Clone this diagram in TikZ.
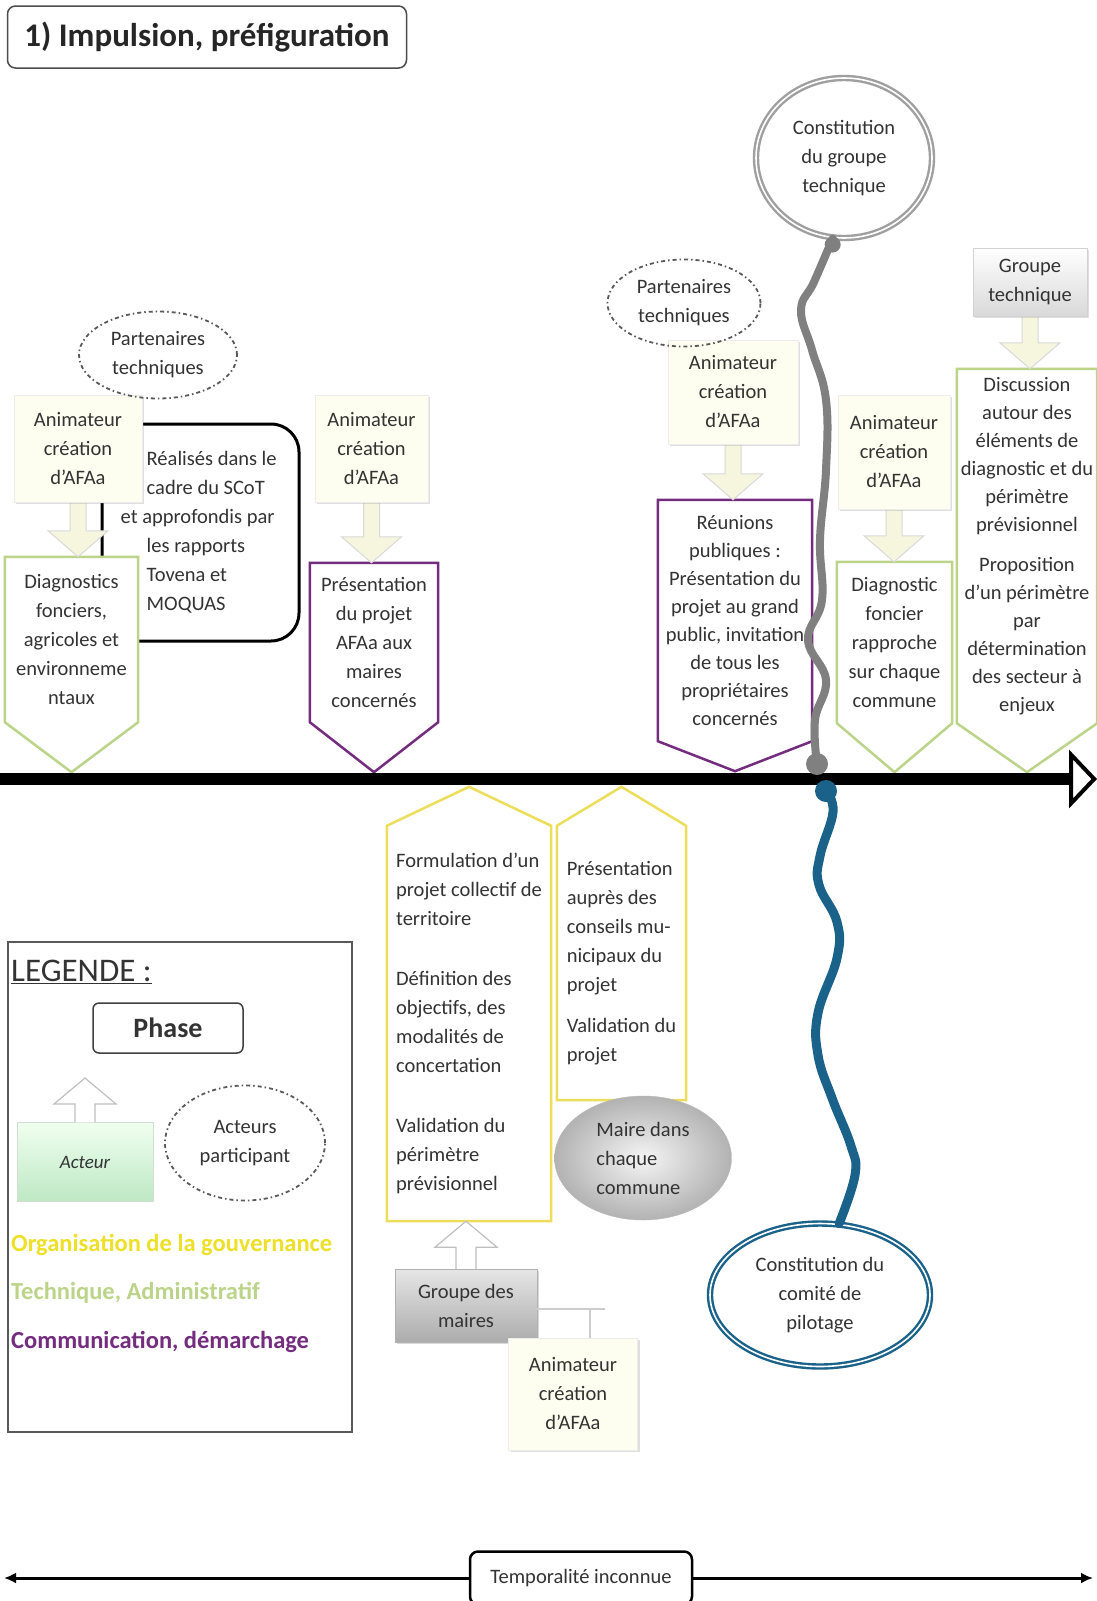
\documentclass[tikz,border=0pt]{standalone}
\usepackage{fontspec}
\setmainfont{Carlito}
\usetikzlibrary{positioning, calc, shapes.geometric, shadows, arrows.meta}
\pgfdeclarelayer{back}
\pgfsetlayers{back,main}
\definecolor{techc}{RGB}{188,212,138}
\definecolor{commc}{RGB}{116,44,126}
\definecolor{govc}{RGB}{236,222,90}
\definecolor{govtxt}{RGB}{238,224,40}
\definecolor{stemgray}{RGB}{128,128,128}
\definecolor{stemblue}{RGB}{26,98,138}
\definecolor{creme}{RGB}{253,253,240}
\definecolor{pale}{RGB}{246,246,222}
\definecolor{acteurc}{RGB}{190,232,196}

\begin{document}
\begin{tikzpicture}[x=1pt,y=-1pt,node distance=2cm]
    \tikzstyle{txt}=[font=\fontsize{20.5}{29}\selectfont, text=black!80, inner sep=0pt, align=center]
    \tikzstyle{titlebox}=[txt, draw=gray!60!black, line width=1.5pt, rounded corners=8pt, fill=white, font=\fontsize{33}{36}\selectfont\bfseries, text=black!85]
    \tikzstyle{notebox}=[draw=black, line width=3pt, rounded corners=28pt, fill=white]
    \tikzstyle{tag}=[txt, rectangle]
    \tikzstyle{callbox}=[txt, rectangle, fill=creme, draw=gray!15, drop shadow={opacity=0.25, shadow xshift=2pt, shadow yshift=-2pt}]
    \tikzstyle{greybox}=[txt, rectangle, draw=gray!35, top color=white, bottom color=gray!30, drop shadow={opacity=0.25, shadow xshift=2pt, shadow yshift=-2pt}]
    \tikzstyle{darkbox}=[txt, rectangle, draw=gray!60, top color=gray!20, bottom color=gray!65, drop shadow={opacity=0.3, shadow xshift=2pt, shadow yshift=-2pt}]
    \tikzstyle{partell}=[txt, ellipse, draw=black!65, line width=1.8pt, dash pattern=on 4pt off 3pt on 1.5pt off 3pt]
    \tikzstyle{phasecirc}=[txt, ellipse, fill=white, draw=gray!75, line width=2.4pt, double=white, double distance=1.6pt]
    \tikzstyle{calldown}=[fill=pale, draw=gray!30, line width=1pt, to path={let \p1=(\tikztostart), \p2=(\tikztotarget) in (\x1-8pt,\y1) -- (\x1-8pt,\y2+26pt) -- (\x1-30pt,\y2+26pt) -- (\x1,\y2) -- (\x1+30pt,\y2+26pt) -- (\x1+8pt,\y2+26pt) -- (\x1+8pt,\y1) -- cycle}]
    \tikzstyle{blockup}=[fill=white, draw=gray!50, line width=1.2pt, to path={let \p1=(\tikztostart), \p2=(\tikztotarget) in (\x1-10pt,\y1) -- (\x1-10pt,\y2-26pt) -- (\x1-31pt,\y2-26pt) -- (\x1,\y2) -- (\x1+31pt,\y2-26pt) -- (\x1+10pt,\y2-26pt) -- (\x1+10pt,\y1)}]
    \tikzstyle{calloutline}=[draw=gray!40, line width=1.5pt]
    \tikzstyle{graystem}=[draw=stemgray, line width=8pt, line cap=round]
    \tikzstyle{bluestem}=[draw=stemblue, line width=9pt, line cap=round]
    \tikzstyle{timeline}=[line width=12pt, -{Triangle[open, length=28pt 0 0, width=58pt 0 0, line width=4pt]}]
    \tikzstyle{tbar}=[line width=3pt, -{Latex[length=12pt 0 0, width=11pt 0 0]}]
    \tikzstyle{legtxt}=[txt, font=\fontsize{24.5}{28}\selectfont\bfseries]

    \useasboundingbox (0,0) rectangle (1097,1601);
    \begin{pgfonlayer}{back}
        \fill[white] (0,0) rectangle (1097,1601);
        \node[notebox, minimum width=197pt, minimum height=217pt] (scot) at (200.5,532.5) {};
        \node[txt, align=left, anchor=west] (scottxt) at ([xshift=46pt]scot.west)
            {Réalisés dans le\\cadre du SCoT\\\hspace*{-26pt}et approfondis par\\les rapports\\Tovena et\\MOQUAS};
    \end{pgfonlayer}

    \node[titlebox, minimum width=399pt, minimum height=62pt] (titre) at (207,37) {1) Impulsion, préfiguration};

    % phases au-dessus de l'axe
    \node[tag, minimum width=133pt, minimum height=165pt] (diag) at (71.5,639.5)
        {Diagnostics\\fonciers,\\agricoles et\\environneme\\ntaux};
    \node[tag, minimum width=128pt, minimum height=159pt] (pres) at (374,642.5)
        {Présentation\\du projet\\AFAa aux\\maires\\concernés};
    \node[tag, minimum width=154pt, minimum height=241pt, font=\fontsize{20.5}{28}\selectfont] (reun) at (735,620.5)
        {Réunions\\publiques :\\Présentation du\\projet au grand\\public, invitation\\de tous les\\propriétaires\\concernés};
    \node[tag, minimum width=115pt, minimum height=161pt] (fonc) at (894.5,642.5)
        {Diagnostic\\foncier\\rapproche\\sur chaque\\commune};
    \node[tag, minimum width=140pt, minimum height=354pt, font=\fontsize{20.5}{28}\selectfont] (disc) at (1027,546)
        {Discussion\\autour des\\éléments de\\diagnostic et du\\périmètre\\prévisionnel\\[12pt]Proposition\\d’un périmètre\\par\\détermination\\des secteur à\\enjeux};

    % phases sous l'axe
    \node[tag, minimum width=164pt, minimum height=395pt, align=left] (formu) at (469,1023.5)
        {Formulation d’un\\projet collectif de\\territoire\\[31pt]Définition des\\objectifs, des\\modalités de\\concertation\\[31pt]Validation du\\périmètre\\prévisionnel};
    \node[tag, minimum width=129pt, minimum height=274pt, align=left] (presc) at (621.5,963)
        {Présentation\\auprès des\\conseils mu-\\nicipaux du\\projet\\[12pt]Validation du\\projet};

    % acteurs
    \node[callbox, minimum width=128pt, minimum height=107pt] (a1) at (78,448.5) {Animateur\\création\\d’AFAa};
    \node[callbox, minimum width=113pt, minimum height=107pt] (a2) at (371.5,448.5) {Animateur\\création\\d’AFAa};
    \node[callbox, minimum width=130pt, minimum height=104pt] (a3) at (733,392) {Animateur\\création\\d’AFAa};
    \node[callbox, minimum width=112pt, minimum height=114pt] (a4) at (894,452) {Animateur\\création\\d’AFAa};
    \node[greybox, minimum width=114pt, minimum height=68pt] (gt) at (1030,282) {Groupe\\technique};
    \node[darkbox, minimum width=142pt, minimum height=73pt] (gm) at (466,1305.5) {Groupe des\\maires};
    \node[callbox, minimum width=129pt, minimum height=112pt] (a5) at (573,1394) {Animateur\\création\\d’AFAa};

    \begin{pgfonlayer}{back}
        \foreach \n/\c/\t in {diag/techc/50, pres/commc/50, reun/commc/30, fonc/techc/49, disc/techc/49}
            \draw[\c, line width=2.5pt, fill=white] (\n.north west) -- (\n.north east) -- (\n.south east)
                -- ([yshift=-\t*1pt]\n.south) -- (\n.south west) -- cycle;
        \foreach \n in {formu, presc}
            \draw[govc, line width=2.5pt, fill=white] (\n.south west) -- (\n.north west)
                -- ([yshift=39pt]\n.north) -- (\n.north east) -- (\n.south east) -- cycle;
        \draw[calldown] (a1.south) to (diag.north);
        \draw[calldown] (a2.south) to (pres.north);
        \draw[calldown] (a3.south) to (reun.north);
        \draw[calldown] (a4.south) to (fonc.north);
        \draw[calldown] (gt.south) to (disc.north);
        \draw[blockup] (gm.north) to (formu.south);
    \end{pgfonlayer}

    \coordinate (a5coude) at (590,1309);
    \draw[calloutline] (a5.north -| a5coude) -- (a5coude);
    \draw[calloutline] (gm.east |- a5coude) -- ++(68,0);

    \node[partell, minimum width=158pt, minimum height=87pt] (part1) at (158,355) {Partenaires\\techniques};
    \node[partell, minimum width=153pt, minimum height=87pt] (part2) at (684,303) {Partenaires\\techniques};

    % jalons
    \node[phasecirc, minimum width=176pt, minimum height=160pt] (cgt) at (844,158) {Constitution\\du groupe\\technique};
    \node[phasecirc, draw=stemblue, minimum width=220pt, minimum height=143pt] (ccp) at (820,1295) {Constitution du\\comité de\\pilotage};
    \node[txt, ellipse, align=left, draw=gray!55, shading=radial, inner color=gray!8, outer color=gray!60,
        minimum width=177pt, minimum height=124pt] (maire) at (643,1158) {Maire dans\\chaque\\commune};

    % axe du temps
    \coordinate (tl0) at (0,779);
    \coordinate (tl1) at (1097,779);
    \draw[timeline] (tl0) -- (tl1);

    \coordinate (gdot) at (817,764);
    \coordinate (bdot) at (826,791);
    \draw[graystem] plot[smooth, tension=0.7] coordinates {(cgt.262) (814,282) (801,310) (812,350) (826,400)
        (826,470) (820,540) (822,600) (808,640) (826,680) (815,720) (gdot)};
    \draw[bluestem] plot[smooth, tension=0.7] coordinates {(bdot) (833,812) (820,856) (819,885) (837,922)
        (837,958) (818,1013) (818,1055) (832,1098) (851,1146) (855,1175) (ccp.75)};
    \fill[stemgray] ([yshift=-6pt]cgt.262) circle (8pt);
    \fill[stemgray] (gdot) circle (11pt);
    \fill[stemblue] (bdot) circle (11pt);

    % legende
    \node[draw=gray!70!black, line width=1.5pt, minimum width=344pt, minimum height=490pt] (legende) at (180,1187) {};
    \node[txt, font=\fontsize{33}{36}\selectfont, anchor=west] (legtitre) at (11,972) {\underline{LEGENDE :}};
    \node[txt, draw=black!75, line width=1.5pt, rounded corners=6pt, minimum width=150pt, minimum height=50pt,
        font=\fontsize{28}{30}\selectfont\bfseries] (legphase) at (168,1028) {Phase};
    \node[txt, draw=green!15!gray!30, top color=green!6, bottom color=acteurc, minimum width=136pt, minimum height=79pt,
        font=\fontsize{19}{24}\selectfont\itshape] (legacteur) at (85,1162) {Acteur};
    \coordinate (legtip) at (85,1078);
    \draw[blockup] (legacteur.north) to (legtip);
    \node[partell, minimum width=160pt, minimum height=115pt] (legpart) at (245,1143) {Acteurs\\participant};
    \node[legtxt, text=govtxt, anchor=west] (leggov) at (11,1245) {Organisation de la gouvernance};
    \node[legtxt, text=techc, anchor=west] (legtech) at (11,1293) {Technique, Administratif};
    \node[legtxt, text=commc, anchor=west] (legcomm) at (11,1342) {Communication, démarchage};

    % temporalite
    \coordinate (tb0) at (4,1578);
    \coordinate (tb1) at (1093,1578);
    \node[txt, draw=black, line width=2.5pt, rounded corners=8pt, fill=white, minimum width=222pt, minimum height=53pt] (tempo) at (581,1578) {Temporalité inconnue};
    \draw[tbar] (tempo.west) -- (tb0);
    \draw[tbar] (tempo.east) -- (tb1);
\end{tikzpicture}
\end{document}
